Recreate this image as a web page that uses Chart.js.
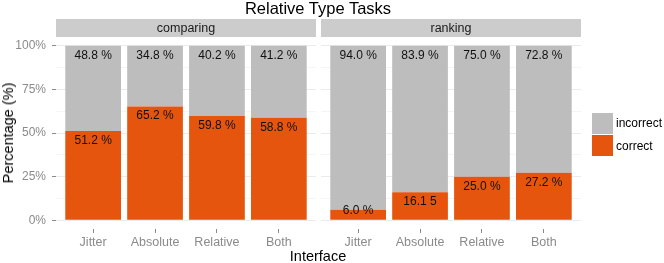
<!DOCTYPE html>
<html lang="en">
<head>
  <meta charset="UTF-8" />
  <title>Relative Type Tasks</title>
  <script src="https://cdn.jsdelivr.net/npm/chart.js"></script>
  <style>
    body { margin: 0; background: #fff; font-family: "Liberation Sans", Arial, sans-serif; }
    #wrap { position: relative; width: 664px; height: 263px; overflow: hidden; }
    canvas { position: absolute; top: 0; }
    .txt { position: absolute; white-space: nowrap; }
    .strip { position: absolute; top: 19px; height: 18px; line-height: 18px; background: #cccccc;
             text-align: center; font-size: 12.5px; color: #1a1a1a; }
    .key { position: absolute; left: 592px; width: 21px; height: 21px; }
  </style>
</head>
<body>
<div id="wrap">
  <canvas id="chartComparing" width="318" height="263" style="left:0"></canvas>
  <canvas id="chartRanking" width="347" height="263" style="left:317px"></canvas>

  <div class="txt" style="left:0;width:636px;top:0;line-height:17px;text-align:center;font-size:16.5px;color:#000">Relative Type Tasks</div>
  <div class="strip" style="left:56px;width:260px">comparing</div>
  <div class="strip" style="left:321px;width:260px">ranking</div>

  <div class="txt" style="left:8px;top:133px;font-size:14.5px;color:#000;transform:translate(-50%,-50%) rotate(-90deg)">Percentage (%)</div>
  <div class="txt" style="left:318px;top:256px;font-size:14.5px;color:#000;transform:translate(-50%,-50%)">Interface</div>

  <div class="key" style="top:113px;background:#bdbdbd"></div>
  <div class="key" style="top:135px;background:#e6550d"></div>
  <div class="txt" style="left:616px;top:123px;font-size:12px;transform:translateY(-50%)">incorrect</div>
  <div class="txt" style="left:616px;top:146px;font-size:12px;transform:translateY(-50%)">correct</div>
</div>

<script>
  // categories and values
  const interfaces = ["Jitter", "Absolute", "Relative", "Both"];
  const yTicks = [0, 25, 50, 75, 100];
  const gridSteps = [0, 12.5, 25, 37.5, 50, 62.5, 75, 87.5, 100];

  const comparingCorrect = [51.2, 65.2, 59.8, 58.8];
  const comparingIncorrect = [48.8, 34.8, 40.2, 41.2];
  const comparingCorrectLabels = ["51.2 %", "65.2 %", "59.8 %", "58.8 %"];
  const comparingIncorrectLabels = ["48.8 %", "34.8 %", "40.2 %", "41.2 %"];

  const rankingCorrect = [6.0, 16.1, 25.0, 27.2];
  const rankingIncorrect = [94.0, 83.9, 75.0, 72.8];
  const rankingCorrectLabels = ["6.0 %", "16.1 5", "25.0 %", "27.2 %"];
  const rankingIncorrectLabels = ["94.0 %", "83.9 %", "75.0 %", "72.8 %"];

  const ORANGE = "#e6550d";
  const GREY = "#bdbdbd";
  const AXIS_TEXT = "#8a8a8a";

  // draws the percentage text a little below the top of each segment
  const barLabels = {
    id: "barLabels",
    afterDatasetsDraw(chart) {
      const ctx = chart.ctx;
      const y = chart.scales.y;
      ctx.save();
      ctx.font = "12px 'Liberation Sans', Arial, sans-serif";
      ctx.fillStyle = "#111";
      ctx.textAlign = "center";
      ctx.textBaseline = "middle";
      chart.data.datasets.forEach((ds, di) => {
        chart.getDatasetMeta(di).data.forEach((bar, i) => {
          const top = y.getValueForPixel(bar.y);
          const pos = Math.max(top - 5.5, 5.7);
          ctx.fillText(ds.labels[i], bar.x, y.getPixelForValue(pos));
        });
      });
      ctx.restore();
    }
  };

  function makeChart(id, correct, incorrect, correctLabels, incorrectLabels, withYAxis) {
    const toPoints = arr => arr.map((v, i) => ({ x: i + 1, y: v }));
    return new Chart(document.getElementById(id), {
      type: "bar",
      data: {
        datasets: [
          { label: "correct", data: toPoints(correct), labels: correctLabels, backgroundColor: ORANGE },
          { label: "incorrect", data: toPoints(incorrect), labels: incorrectLabels, backgroundColor: GREY }
        ]
      },
      options: {
        responsive: false,
        animation: false,
        barPercentage: 0.9,
        categoryPercentage: 1,
        layout: { padding: withYAxis ? { top: 37, right: 2 } : { top: 37, left: 4, right: 83 } },
        plugins: { legend: { display: false }, tooltip: { enabled: false } },
        scales: {
          x: {
            type: "linear",
            stacked: true,
            offset: false,
            min: 0.4,
            max: 4.6,
            afterBuildTicks: s => { s.ticks = interfaces.map((_, i) => ({ value: i + 1 })); },
            afterFit: s => { s.height = 34; },
            border: { display: false },
            grid: { offset: false, drawOnChartArea: false, tickLength: 4, tickColor: AXIS_TEXT },
            ticks: {
              padding: 2,
              color: AXIS_TEXT,
              font: { family: "'Liberation Sans', Arial", size: 12.5 },
              callback: v => interfaces[v - 1]
            }
          },
          y: {
            stacked: true,
            min: -5,
            max: 105,
            afterBuildTicks: s => { s.ticks = gridSteps.map(v => ({ value: v })); },
            afterFit: s => { s.width = withYAxis ? 56 : 0; },
            border: { display: false },
            grid: {
              color: c => yTicks.includes(c.tick.value) ? "#ebebeb" : "#f5f5f5",
              tickColor: c => (withYAxis && yTicks.includes(c.tick.value)) ? AXIS_TEXT : "rgba(0,0,0,0)",
              tickLength: withYAxis ? 4 : 0,
              drawTicks: withYAxis
            },
            ticks: {
              display: withYAxis,
              padding: 6,
              color: AXIS_TEXT,
              font: { family: "'Liberation Sans', Arial", size: 12 },
              callback: v => yTicks.includes(v) ? v + "%" : ""
            }
          }
        }
      },
      plugins: [barLabels]
    });
  }

  makeChart("chartComparing", comparingCorrect, comparingIncorrect, comparingCorrectLabels, comparingIncorrectLabels, true);
  makeChart("chartRanking", rankingCorrect, rankingIncorrect, rankingCorrectLabels, rankingIncorrectLabels, false);
</script>
</body>
</html>
